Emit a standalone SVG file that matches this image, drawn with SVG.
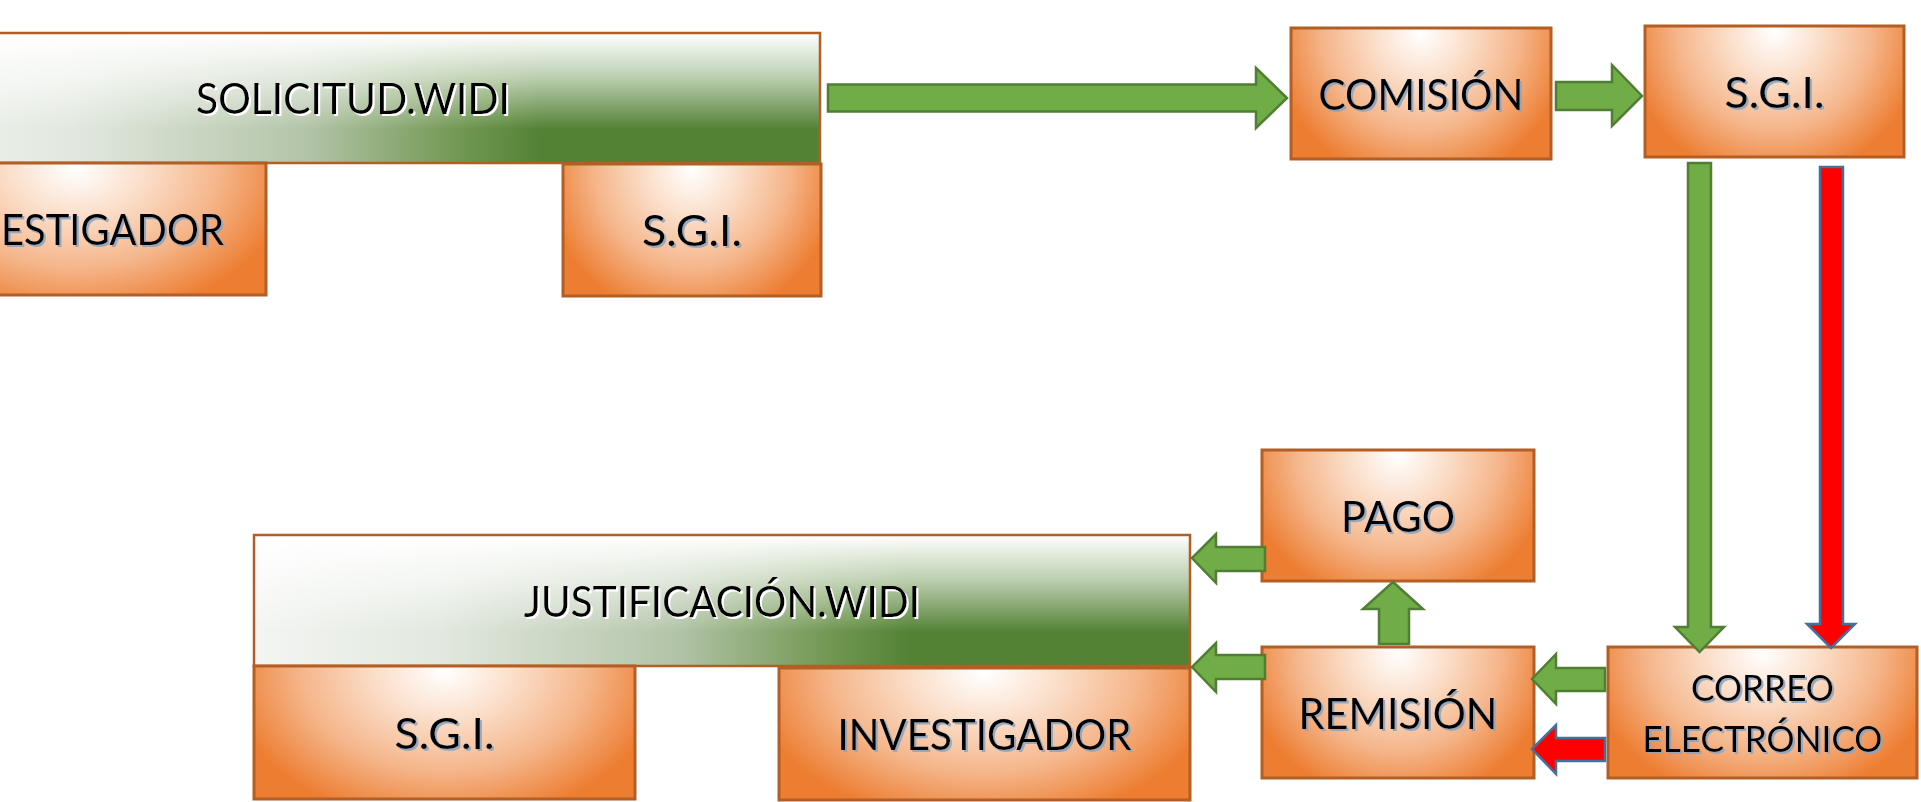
<svg xmlns="http://www.w3.org/2000/svg" width="1921" height="802" viewBox="0 0 1921 802">
<defs>
  <radialGradient id="og" cx="0.5" cy="0.04" r="1.15" gradientTransform="translate(0.5,0) scale(0.5,1) translate(-0.5,0)">
    <stop offset="0" stop-color="#ffffff"/>
    <stop offset="0.3" stop-color="#fbe0cc"/>
    <stop offset="0.65" stop-color="#f5b68b"/>
    <stop offset="1" stop-color="#ed7d31"/>
  </radialGradient>
  <linearGradient id="gh" x1="0" y1="0" x2="1" y2="0">
    <stop offset="0" stop-color="#f3f5f2"/>
    <stop offset="0.2" stop-color="#e2e8df"/>
    <stop offset="0.45" stop-color="#b3c4a8"/>
    <stop offset="0.62" stop-color="#6f9650"/>
    <stop offset="0.7" stop-color="#548235"/>
    <stop offset="1" stop-color="#548235"/>
  </linearGradient>
  <linearGradient id="gv" x1="0" y1="0" x2="0" y2="1">
    <stop offset="0" stop-color="#ffffff" stop-opacity="1"/>
    <stop offset="0.35" stop-color="#ffffff" stop-opacity="0.6"/>
    <stop offset="0.74" stop-color="#ffffff" stop-opacity="0"/>
    <stop offset="1" stop-color="#ffffff" stop-opacity="0"/>
  </linearGradient>
  <filter id="ts" x="-5%" y="-20%" width="110%" height="140%">
    <feDropShadow dx="2" dy="2" stdDeviation="0.6" flood-color="#8ea4bf" flood-opacity="0.9"/>
  </filter>
  <filter id="tw" x="-5%" y="-20%" width="110%" height="140%">
    <feDropShadow dx="2" dy="2" stdDeviation="0.4" flood-color="#ffffff" flood-opacity="1"/>
  </filter>
</defs>
<style>
  .box { fill: url(#og); stroke: #b35e25; stroke-width: 3; }
  .ban { stroke: #b35e25; stroke-width: 2.5; }
  .lbl { font-family: Lato, "Open Sans", "Liberation Sans", sans-serif; font-size: 43px; fill: #000; text-anchor: middle; filter: url(#ts); }
  .blbl { font-family: Lato, "Open Sans", "Liberation Sans", sans-serif; font-size: 43px; fill: #000; text-anchor: middle; filter: url(#tw); }
  .sm { font-size: 37px; }
  .ga { fill: #70ad47; stroke: #507e32; stroke-width: 2.5; stroke-linejoin: miter; }
  .ra { fill: #ff0000; stroke: #41719c; stroke-width: 2.5; stroke-linejoin: miter; }
</style>
<rect width="1921" height="802" fill="#ffffff"/>

<g id="solicitud-widi">
  <rect x="-114" y="33" width="934" height="130" fill="url(#gh)"/>
  <rect x="-114" y="33" width="934" height="130" fill="url(#gv)" class="ban"/>
  <text class="blbl" x="353" y="114" textLength="314" lengthAdjust="spacingAndGlyphs">SOLICITUD.WIDI</text>
</g>
<g id="investigador-top">
  <rect class="box" x="-114" y="163" width="380" height="132"/>
  <text class="lbl" x="1" y="245" style="text-anchor:start" textLength="223" lengthAdjust="spacingAndGlyphs">ESTIGADOR</text>
</g>
<g id="sgi-top">
  <rect class="box" x="563" y="164" width="258" height="132"/>
  <text class="lbl" x="692" y="246" textLength="100" lengthAdjust="spacingAndGlyphs">S.G.I.</text>
</g>
<g id="comision">
  <rect class="box" x="1291" y="28" width="260" height="131"/>
  <text class="lbl" x="1421" y="109.5" textLength="205" lengthAdjust="spacingAndGlyphs">COMISIÓN</text>
</g>
<g id="sgi-right">
  <rect class="box" x="1645" y="26" width="259" height="131"/>
  <text class="lbl" x="1774.5" y="107.5" textLength="100" lengthAdjust="spacingAndGlyphs">S.G.I.</text>
</g>
<g id="pago">
  <rect class="box" x="1262" y="450" width="272" height="131"/>
  <text class="lbl" x="1398" y="531.5" textLength="114" lengthAdjust="spacingAndGlyphs">PAGO</text>
</g>
<g id="remision">
  <rect class="box" x="1262" y="647" width="272" height="131"/>
  <text class="lbl" x="1398" y="728.5" textLength="199" lengthAdjust="spacingAndGlyphs">REMISIÓN</text>
</g>
<g id="correo">
  <rect class="box" x="1608" y="647" width="309" height="131"/>
  <text class="lbl sm" x="1762.5" y="701" textLength="143" lengthAdjust="spacingAndGlyphs">CORREO</text>
  <text class="lbl sm" x="1762.5" y="752" textLength="240" lengthAdjust="spacingAndGlyphs">ELECTRÓNICO</text>
</g>
<g id="justificacion-widi">
  <rect x="254" y="535" width="936" height="131" fill="url(#gh)"/>
  <rect x="254" y="535" width="936" height="131" fill="url(#gv)" class="ban"/>
  <text class="blbl" x="722" y="616.5" textLength="396" lengthAdjust="spacingAndGlyphs">JUSTIFICACIÓN.WIDI</text>
</g>
<g id="sgi-bottom">
  <rect class="box" x="254" y="666" width="381" height="133"/>
  <text class="lbl" x="444.5" y="748.5" textLength="100" lengthAdjust="spacingAndGlyphs">S.G.I.</text>
</g>
<g id="investigador-bottom">
  <rect class="box" x="779" y="668" width="411" height="132"/>
  <text class="lbl" x="984.5" y="750" textLength="294" lengthAdjust="spacingAndGlyphs">INVESTIGADOR</text>
</g>

<g id="connectors">
  <polygon class="ga" points="828,84.5 1256,84.5 1256,68 1287,98 1256,128 1256,111.5 828,111.5"/>
  <polygon class="ga" points="1556,82 1612,82 1612,65 1642,96 1612,126 1612,110 1556,110"/>
  <polygon class="ga" points="1688,163 1711,163 1711,627 1724,627 1699.5,652 1675,627 1688,627"/>
  <polygon class="ra" points="1820,167 1843,167 1843,624 1855,624 1831,648 1807,624 1820,624"/>
  <polygon class="ga" points="1605,668 1556,668 1556,654 1532,679 1556,704 1556,691 1605,691"/>
  <polygon class="ra" points="1605,738 1556,738 1556,725 1532,749 1556,774 1556,761 1605,761"/>
  <polygon class="ga" points="1379,644 1379,609 1363,609 1393,582 1423,609 1409,609 1409,644"/>
  <polygon class="ga" points="1265,547 1216,547 1216,534 1192,558 1216,583 1216,571 1265,571"/>
  <polygon class="ga" points="1265,655 1216,655 1216,643 1192,667 1216,692 1216,679 1265,679"/>
</g>
</svg>
